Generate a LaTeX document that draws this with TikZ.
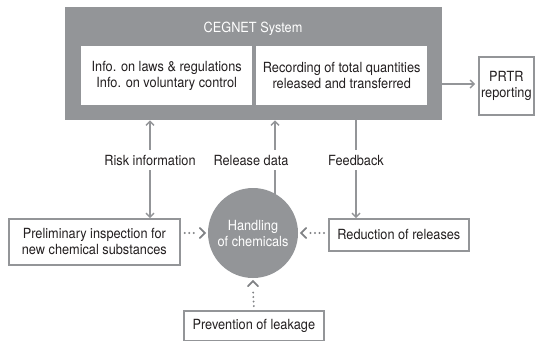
\documentclass[tikz,border=0pt]{standalone}
\usepackage{fontspec}
\setmainfont{TeX Gyre Heros}[FakeStretch=0.91]
\usetikzlibrary{arrows.meta}
\definecolor{cgray}{HTML}{939598}
\definecolor{cdot}{HTML}{808285}
\definecolor{ctext}{HTML}{231F20}
\begin{document}
\begin{tikzpicture}[x=1bp,y=-1bp,
  every node/.style={font=\fontsize{14bp}{16bp}\selectfont, text=ctext, inner sep=0pt},
  whitebox/.style={fill=white, draw=none, align=center},
  outbox/.style={draw=cgray, line width=1.7bp, fill=white, align=center},
  solidarr/.style={draw=cgray, line width=1.5bp, -{Straight Barb[length=4bp,width=8bp,line width=1.4bp]}},
  solidln/.style={draw=cgray, line width=1.5bp},
  dotln/.style={draw=cdot, line width=2.2bp, line cap=round, dash pattern=on 0pt off 4.5bp},
  chev/.style={draw=cdot, line width=1.8bp, line cap=round, line join=miter},
]
\useasboundingbox (0,0) rectangle (536,340);
% CEGNET system
\node[fill=cgray, minimum width=377bp, minimum height=113bp, anchor=north west] (sys) at (65,7) {};
\node[text=white] (title) at (253,29) {CEGNET System};
\node[whitebox, minimum width=171bp, minimum height=59bp, anchor=north west] (laws) at (81,46)
  {Info. on laws \& regulations\\Info. on voluntary control};
\node[whitebox, minimum width=171bp, minimum height=59bp, anchor=north west] (rec) at (256,46)
  {Recording of total quantities\\released and transferred};
% PRTR
\node[outbox, minimum width=55bp, minimum height=58bp, anchor=north west] (prtr) at (478,56)
  {PRTR\\reporting};
\draw[solidarr] (sys.east |- 0,84) -- ([xshift=-3bp]prtr.west |- 0,84);
% circle
\node[circle, fill=cgray, minimum size=90bp, text=white, align=center] (hand) at (253,233)
  {Handling\\of chemicals};
% boxes
\node[outbox, minimum width=171bp, minimum height=46bp, anchor=north west] (pre) at (8,218)
  {Preliminary inspection for\\new chemical substances};
\node[outbox, minimum width=140bp, minimum height=32bp, anchor=north west] (red) at (328,218)
  {Reduction of releases};
\node[outbox, minimum width=140bp, minimum height=30bp, anchor=north west] (prev) at (183,310)
  {Prevention of leakage};
% labels
\node (risk) at (150,160) {Risk information};
\node (rel) at (251,160) {Release data};
\node (fb) at (356,160) {Feedback};
% connectors
\draw[solidarr] ([yshift=5bp]risk.north) coordinate (r1) -- (r1 |- sys.south);
\draw[solidarr] ([yshift=-5bp]risk.south) coordinate (r2) -- (r2 |- pre.north);
\coordinate (c1) at (275,194);
\draw[solidln] (c1) -- ([yshift=-5bp]c1 |- rel.south);
\draw[solidarr] ([yshift=5bp]c1 |- rel.north) -- (c1 |- sys.south);
\draw[solidln] (fb.north |- sys.south) -- ([yshift=5bp]fb.north);
\draw[solidarr] ([yshift=-5bp]fb.south) -- (fb.south |- red.north);
% dotted arrows
\coordinate (la) at ([xshift=-3bp]hand.west);
\coordinate (ra) at ([xshift=3bp]hand.east);
\coordinate (ba) at ([yshift=-3bp]hand.south);
\draw[dotln] ([xshift=4bp]pre.east |- hand) -- ([xshift=-9bp]la);
\draw[chev] (la) ++(-5,-5) -- (la) -- ++(-5,5);
\draw[dotln] ([xshift=-4bp]red.west |- hand) -- ([xshift=9bp]ra);
\draw[chev] (ra) ++(5,-5) -- (ra) -- ++(5,5);
\draw[dotln] ([yshift=4bp]prev.north) -- ([yshift=-9bp]ba);
\draw[chev] (ba) ++(-5,5) -- (ba) -- ++(5,5);
\end{tikzpicture}
\end{document}
